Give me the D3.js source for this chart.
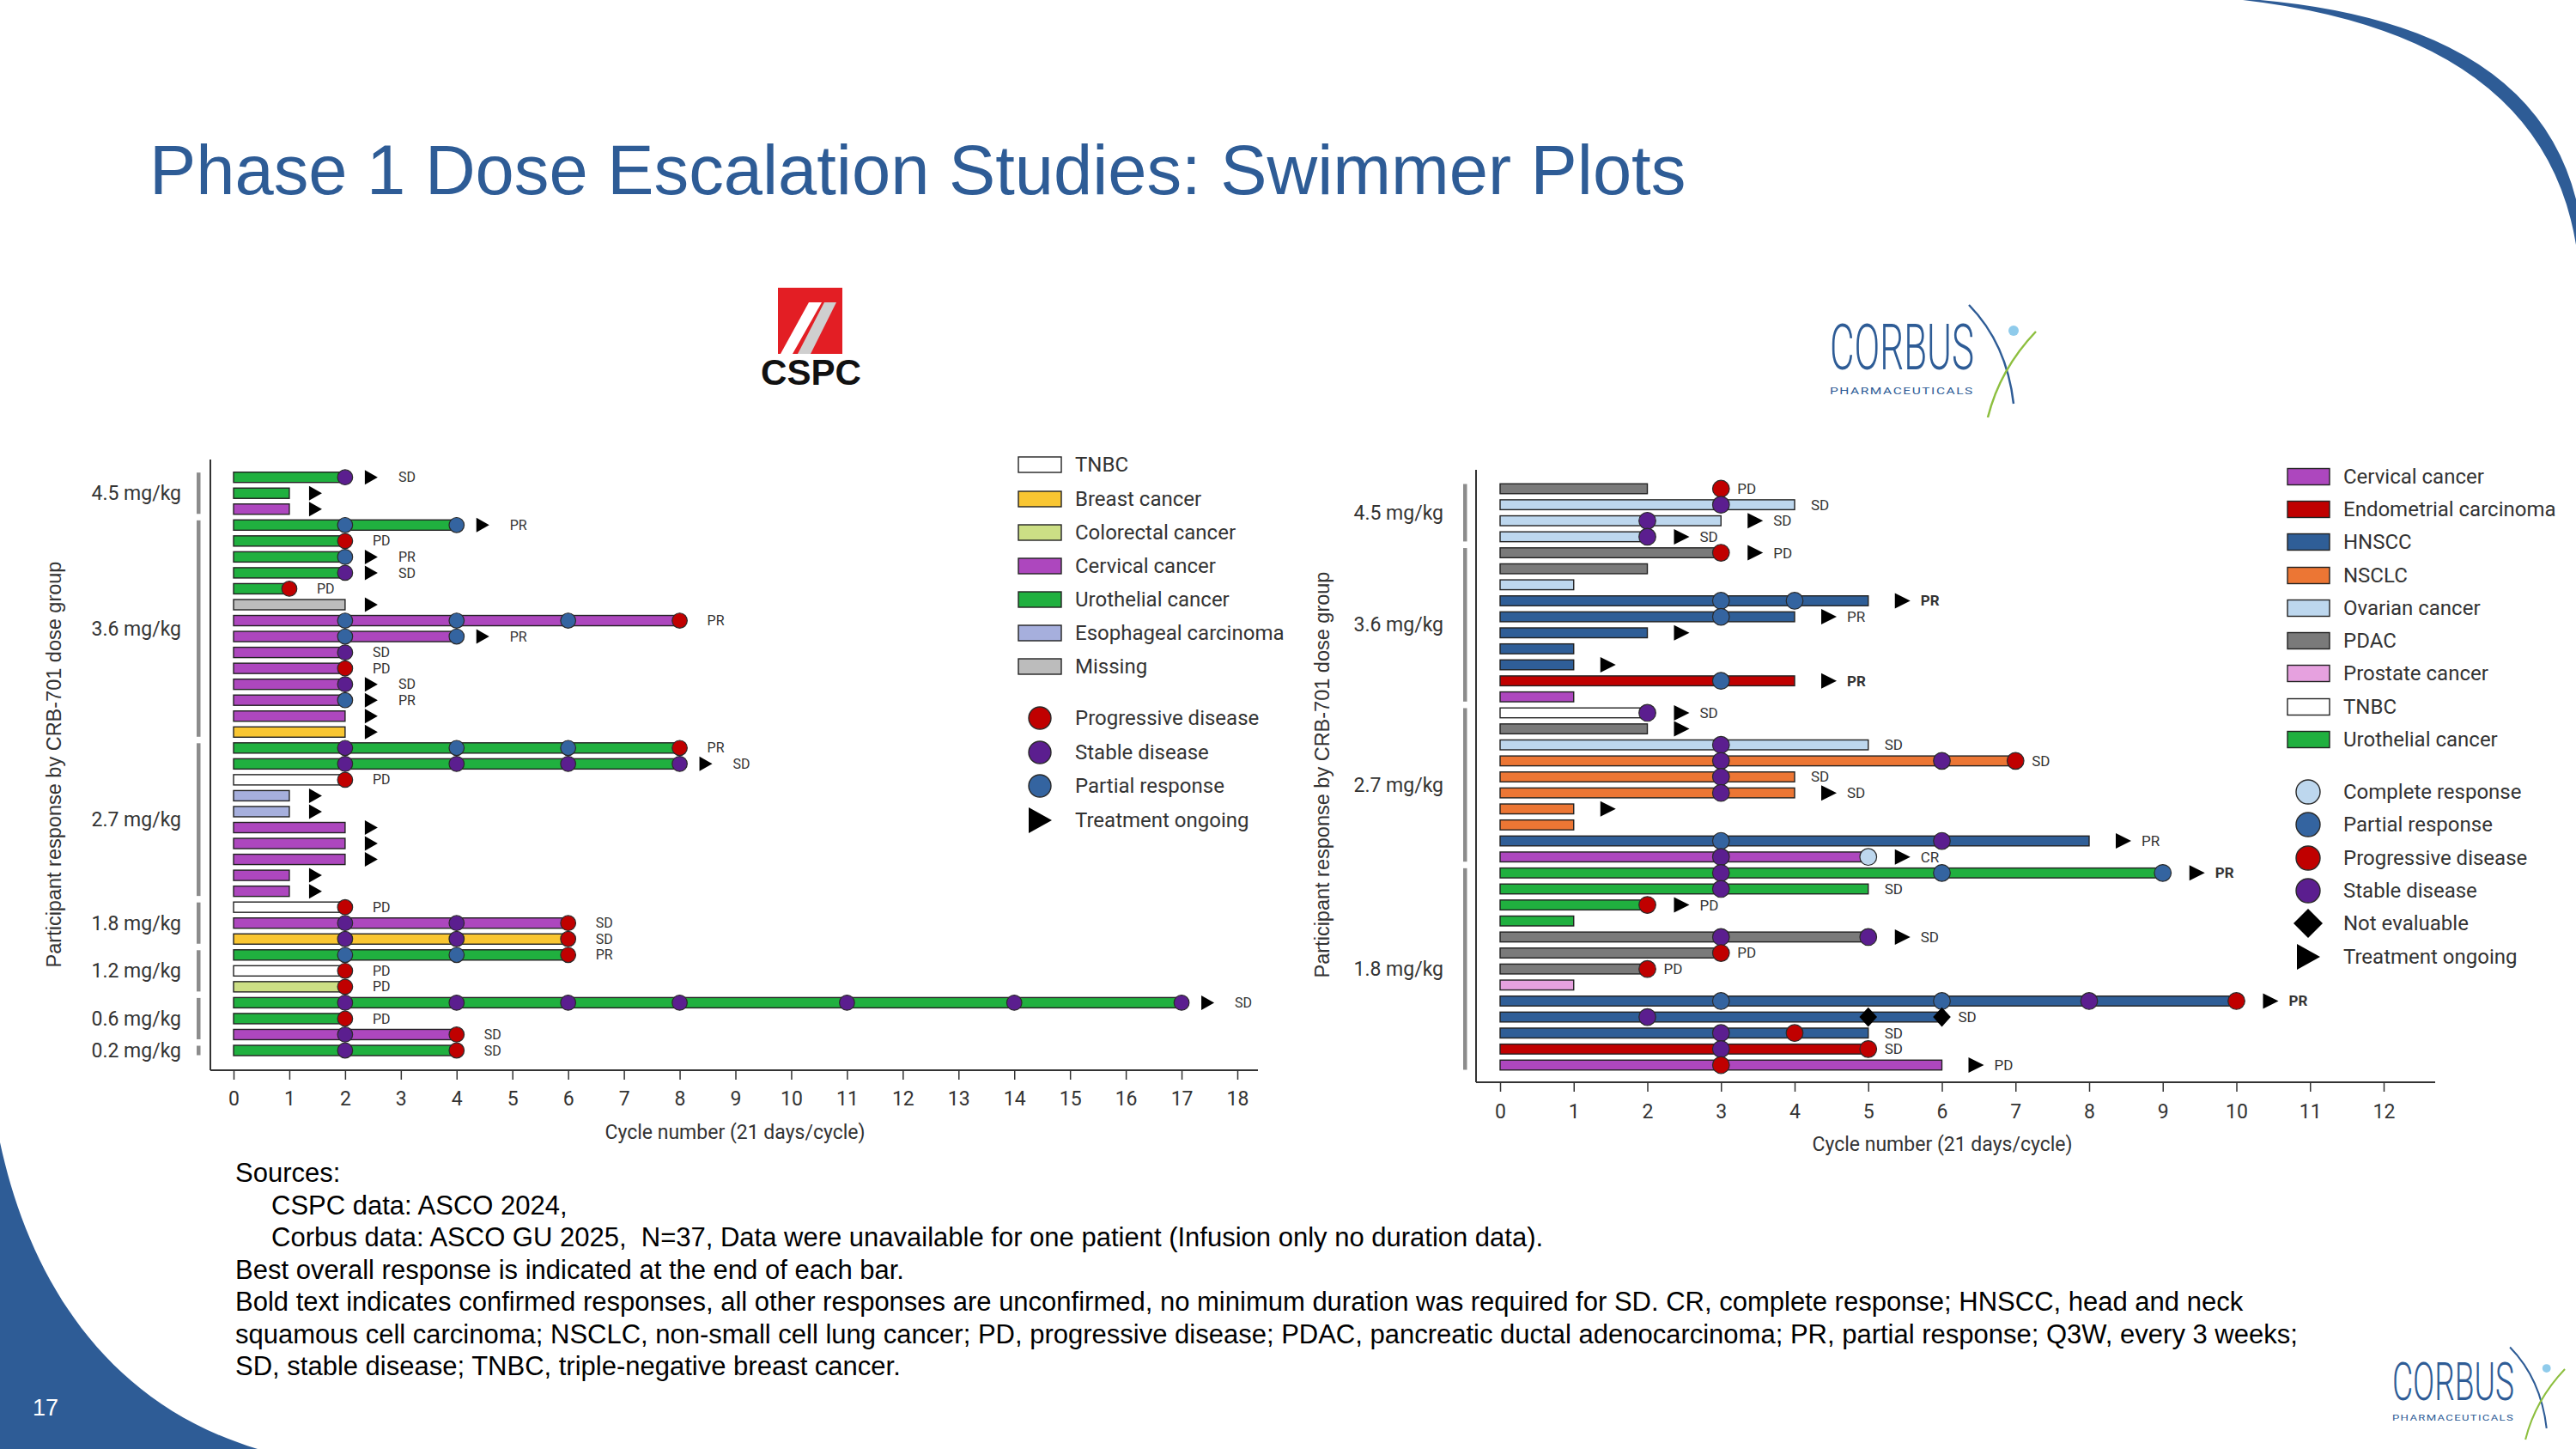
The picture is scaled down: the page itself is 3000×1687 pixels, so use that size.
<!DOCTYPE html>
<html><head><meta charset="utf-8">
<script src="https://cdn.jsdelivr.net/npm/d3@7"></script>
<style>body{margin:0;background:#fff} svg{display:block}</style>
</head><body>
<svg id="c" width="3000" height="1687"></svg>
<script>
// ---------------- DATA ----------------
// Left chart (CSPC)
const leftCategories = ["TNBC","Breast cancer","Colorectal cancer","Cervical cancer","Urothelial cancer","Esophageal carcinoma","Missing"];
const leftResponses = ["Progressive disease","Stable disease","Partial response","Treatment ongoing"];
const leftDoseGroups = ["4.5 mg/kg","3.6 mg/kg","2.7 mg/kg","1.8 mg/kg","1.2 mg/kg","0.6 mg/kg","0.2 mg/kg"];
const leftGroupSizes = [3,14,10,3,3,3,1];
const leftTumor = ["Urothelial cancer","Urothelial cancer","Cervical cancer","Urothelial cancer","Urothelial cancer","Urothelial cancer","Urothelial cancer","Urothelial cancer","Missing","Cervical cancer","Cervical cancer","Cervical cancer","Cervical cancer","Cervical cancer","Cervical cancer","Cervical cancer","Breast cancer","Urothelial cancer","Urothelial cancer","TNBC","Esophageal carcinoma","Esophageal carcinoma","Cervical cancer","Cervical cancer","Cervical cancer","Cervical cancer","Cervical cancer","TNBC","Cervical cancer","Breast cancer","Urothelial cancer","TNBC","Colorectal cancer","Urothelial cancer","Urothelial cancer","Cervical cancer","Urothelial cancer"];
const leftCycles = [2,1,1,4,2,2,2,1,2,8,4,2,2,2,2,2,2,8,8,2,1,1,2,2,2,1,1,2,6,6,6,2,2,17,2,4,4];
const leftAssessments = [["2:SD"],[],[],["2:PR","4:PR"],["2:PD"],["2:PR"],["2:SD"],["1:PD"],[],["2:PR","4:PR","6:PR","8:PD"],["2:PR","4:PR"],["2:SD"],["2:PD"],["2:SD"],["2:PR"],[],[],["2:SD","4:PR","6:PR","8:PD"],["2:SD","4:SD","6:SD","8:SD"],["2:PD"],[],[],[],[],[],[],[],["2:PD"],["2:SD","4:SD","6:PD"],["2:SD","4:SD","6:PD"],["2:PR","4:PR","6:PD"],["2:PD"],["2:PD"],["2:SD","4:SD","6:SD","8:SD","11:SD","14:SD","17:SD"],["2:PD"],["2:SD","4:PD"],["2:SD","4:PD"]];
const leftOngoing = [1,1,1,1,0,1,1,0,1,0,1,0,0,1,1,1,1,0,1,0,1,1,1,1,1,1,1,0,0,0,0,0,0,1,0,0,0];
const leftBest = ["SD","","","PR","PD","PR","SD","PD","","PR","PR","SD","PD","SD","PR","","","PR","SD","PD","","","","","","","","PD","SD","SD","PR","PD","PD","SD","PD","SD","SD"];
const leftTicks = [0,1,2,3,4,5,6,7,8,9,10,11,12,13,14,15,16,17,18];

// Right chart (Corbus)
const rightCategories = ["Cervical cancer","Endometrial carcinoma","HNSCC","NSCLC","Ovarian cancer","PDAC","Prostate cancer","TNBC","Urothelial cancer"];
const rightResponses = ["Complete response","Partial response","Progressive disease","Stable disease","Not evaluable","Treatment ongoing"];
const rightDoseGroups = ["4.5 mg/kg","3.6 mg/kg","2.7 mg/kg","1.8 mg/kg"];
const rightGroupSizes = [4,10,10,13];
const rightTumor = ["PDAC","Ovarian cancer","Ovarian cancer","Ovarian cancer","PDAC","PDAC","Ovarian cancer","HNSCC","HNSCC","HNSCC","HNSCC","HNSCC","Endometrial carcinoma","Cervical cancer","TNBC","PDAC","Ovarian cancer","NSCLC","NSCLC","NSCLC","NSCLC","NSCLC","HNSCC","Cervical cancer","Urothelial cancer","Urothelial cancer","Urothelial cancer","Urothelial cancer","PDAC","PDAC","PDAC","Prostate cancer","HNSCC","HNSCC","HNSCC","Endometrial carcinoma","Cervical cancer"];
const rightCycles = [2,4,3,2,3,2,1,5,4,2,1,1,4,1,2,2,5,7,4,4,1,1,8,5,9,5,2,1,5,3,2,1,10,6,5,5,6];
const rightAssessments = [["3:PD"],["3:SD"],["2:SD"],["2:SD"],["3:PD"],[],[],["3:PR","4:PR"],["3:PR"],[],[],[],["3:PR"],[],["2:SD"],[],["3:SD"],["3:SD","6:SD","7:PD"],["3:SD"],["3:SD"],[],[],["3:PR","6:SD"],["3:SD","5:CR"],["3:SD","6:PR","9:PR"],["3:SD"],["2:PD"],[],["3:SD","5:SD"],["3:PD"],["2:PD"],[],["3:PR","6:PR","8:SD","10:PD"],["2:SD","5:NE","6:NE"],["3:SD","4:PD"],["3:SD","5:PD"],["3:PD"]];
const rightOngoing = [0,0,1,1,1,0,0,1,1,1,0,1,1,0,1,1,0,0,0,1,1,0,1,1,1,0,1,0,1,0,0,0,1,0,0,0,1];
const rightBest = ["PD","SD","SD","SD","PD","","","PR","PR","","","","PR","","SD","","SD","SD","SD","SD","","","PR","CR","PR","SD","PD","","SD","PD","PD","","PR","SD","SD","SD","PD"];
const rightConfirmed = [0,0,0,0,0,0,0,1,0,0,0,0,1,0,0,0,0,0,0,0,0,0,0,0,1,0,0,0,0,0,0,0,1,0,0,0,0];
const rightTicks = [0,1,2,3,4,5,6,7,8,9,10,11,12];

const footnotes = [
  {t:"Sources:", ind:0},
  {t:"CSPC data: ASCO 2024,", ind:1},
  {t:"Corbus data: ASCO GU 2025,  N=37, Data were unavailable for one patient (Infusion only no duration data).", ind:1},
  {t:"Best overall response is indicated at the end of each bar.", ind:0},
  {t:"Bold text indicates confirmed responses, all other responses are unconfirmed, no minimum duration was required for SD. CR, complete response; HNSCC, head and neck", ind:0},
  {t:"squamous cell carcinoma; NSCLC, non-small cell lung cancer; PD, progressive disease; PDAC, pancreatic ductal adenocarcinoma; PR, partial response; Q3W, every 3 weeks;", ind:0},
  {t:"SD, stable disease; TNBC, triple-negative breast cancer.", ind:0}
];

// ---------------- STYLES ----------------
const tumorColor = {
  "TNBC":"#FFFFFF","Breast cancer":"#F9C632","Colorectal cancer":"#CCDF85","Cervical cancer":"#AD47BE",
  "Urothelial cancer":"#20B03F","Esophageal carcinoma":"#A6AFDD","Missing":"#BCBCBC",
  "Endometrial carcinoma":"#C00000","HNSCC":"#2F5E97","NSCLC":"#EC7634","Ovarian cancer":"#BDD7EE",
  "PDAC":"#7A7A7A","Prostate cancer":"#E6A1DF"
};
const respColor = {PD:"#C00000", SD:"#5B1E8F", PR:"#3464A0", CR:"#BDD7EE", NE:"#000000"};
const respCode = {"Progressive disease":"PD","Stable disease":"SD","Partial response":"PR","Complete response":"CR","Not evaluable":"NE"};
const BLUE = "#2E5C96";
const TXT = "#333333";

const svg = d3.select("#c");
svg.append("rect").attr("width",3000).attr("height",1687).attr("fill","#fff");

// decorative shapes
svg.append("path").attr("d","M2612,0 Q2960,40 3000,285 L3000,232 Q2948,28 2632,0 Z").attr("fill",BLUE);
svg.append("path").attr("d","M0,1330 C30,1470 110,1630 300,1687 L0,1687 Z").attr("fill",BLUE);
svg.append("text").attr("x",38).attr("y",1648).text("17")
  .attr("font-family","Liberation Sans, Arial, sans-serif").attr("font-size",27).attr("fill","#fff");

// title
svg.append("text").attr("x",174).attr("y",226).text("Phase 1 Dose Escalation Studies: Swimmer Plots")
  .attr("font-family","Liberation Sans, Arial, sans-serif").attr("font-size",81.3).attr("fill",BLUE);

// CSPC logo
const cl = svg.append("g");
cl.append("rect").attr("x",906).attr("y",335).attr("width",75).attr("height",77).attr("fill","#E31E24");
cl.append("polygon").attr("points","929,412 944,412 974,352 960,352").attr("fill","#CFCFCF");
cl.append("polygon").attr("points","909,412 923,412 957,352 942,352").attr("fill","#fff");
cl.append("text").attr("x",886).attr("y",448).text("CSPC").attr("textLength",117).attr("lengthAdjust","spacingAndGlyphs")
  .attr("font-family","Liberation Sans, Arial, sans-serif").attr("font-weight","bold").attr("font-size",42).attr("fill","#111");

// text squeezed horizontally to a given width (measured, then scaled)
function squeezedText(g, str, x, y, w, fs, weight, spacing) {
  const t = g.append("text").attr("x",0).attr("y",0).text(str)
    .attr("font-family","Roboto, sans-serif").attr("font-weight",weight).attr("font-size",fs)
    .attr("letter-spacing",spacing || 0).attr("fill",BLUE);
  const len = t.node().getComputedTextLength();
  t.attr("transform",`translate(${x},${y}) scale(${w/len},1)`);
  return t;
}
function corbusLogo(x, y, w, s) {
  const g = svg.append("g");
  const bx = x + w;
  g.append("path").attr("d",`M${bx-6*s},${y-75*s} Q${bx+38*s},${y-30*s} ${bx+46*s},${y+40*s}`)
    .attr("fill","none").attr("stroke",BLUE).attr("stroke-width",2.5*s);
  g.append("path").attr("d",`M${bx+72*s},${y-44*s} Q${bx+30*s},${y} ${bx+16*s},${y+56*s}`)
    .attr("fill","none").attr("stroke","#8DBF3F").attr("stroke-width",2.5*s);
  g.append("circle").attr("cx",bx+46*s).attr("cy",y-45*s).attr("r",6*s).attr("fill","#8FCBEB");
  squeezedText(g, "CORBUS", x, y, w, 74*s, 300);
  squeezedText(g, "PHARMACEUTICALS", x, y+29*s, w, 10*s, 400, 1*s);
}
corbusLogo(2131, 430, 168, 1);
corbusLogo(2786, 1630, 142, 0.82);

// ---------------- SWIMMER CHART ----------------
function swimmer(o) {
  const g = svg.append("g");
  const x = o.x, y = o.y;
  const n = o.tumor.length;
  g.append("line").attr("x1",o.axisLeft).attr("x2",o.axisLeft).attr("y1",o.axisTop).attr("y2",o.axisY)
    .attr("stroke",TXT).attr("stroke-width",2);
  g.append("line").attr("x1",o.axisLeft).attr("x2",o.axisRight).attr("y1",o.axisY).attr("y2",o.axisY)
    .attr("stroke",TXT).attr("stroke-width",2);
  const ax = g.append("g").attr("transform",`translate(0,${o.axisY})`)
    .call(d3.axisBottom(x).tickValues(o.ticks).tickSize(11).tickPadding(o.tickPad).tickFormat(d3.format("d")));
  ax.select(".domain").remove();
  ax.selectAll("line").attr("stroke",TXT).attr("stroke-width",1.5);
  ax.selectAll("text").attr("font-family","Roboto, sans-serif").attr("font-size",23).attr("fill",TXT);
  g.append("text").attr("x",o.xTitleX).attr("y",o.xTitleY).attr("text-anchor","middle").text("Cycle number (21 days/cycle)")
    .attr("font-family","Roboto, sans-serif").attr("font-size",23).attr("fill",TXT);
  g.append("text").attr("transform",`translate(${o.yTitleX},${o.yTitleY}) rotate(-90)`).attr("text-anchor","middle")
    .text("Participant response by CRB-701 dose group")
    .attr("font-family","Liberation Sans, Arial, sans-serif").attr("font-size",23.5).attr("fill",TXT);

  let start = 0;
  o.groups.forEach((lab, gi) => {
    const end = start + o.sizes[gi] - 1;
    const y0 = y(start) - 5.5, y1 = y(end) + 5.5;
    g.append("rect").attr("x",o.groupBarX).attr("y",y0).attr("width",4.5).attr("height",y1-y0).attr("fill","#8C8C8C");
    g.append("text").attr("x",o.groupLabelX).attr("y",(y(start)+y(end))/2).attr("dy","0.35em")
      .attr("text-anchor","end").text(lab)
      .attr("font-family","Roboto, sans-serif").attr("font-size",23).attr("fill",TXT);
    start = end + 1;
  });

  const rows = d3.range(n).map(i => ({
    i, tumor:o.tumor[i], cyc:o.cycles[i],
    dots:o.assess[i].map(s => { const p = s.split(":"); return {c:+p[0], r:p[1]}; }),
    on:o.ongoing[i], best:o.best[i], bold:o.bold ? o.bold[i] : 0
  }));
  g.selectAll(".bar").data(rows).join("rect")
    .attr("x",x(0)).attr("y",d => y(d.i)-o.barH/2).attr("width",d => x(d.cyc)-x(0)).attr("height",o.barH)
    .attr("fill",d => tumorColor[d.tumor]).attr("stroke","#222").attr("stroke-width",1.4);
  rows.forEach(d => {
    d.dots.forEach(p => {
      if (p.r === "NE") {
        const cx = x(p.c), cy = y(d.i), hw = o.dotR+0.5, hh = o.dotR+1.5;
        g.append("polygon").attr("points",`${cx-hw},${cy} ${cx},${cy-hh} ${cx+hw},${cy} ${cx},${cy+hh}`).attr("fill","#000");
      } else {
        g.append("circle").attr("cx",x(p.c)).attr("cy",y(d.i)).attr("r",o.dotR)
          .attr("fill",respColor[p.r]).attr("stroke","#2a2a2a").attr("stroke-width",1.2);
      }
    });
    const endC = Math.max(d.cyc, d3.max(d.dots, p => p.c) || 0);
    const ex = x(endC);
    if (d.on) {
      const a = ex + o.arrowOff;
      g.append("polygon").attr("points",`${a},${y(d.i)-o.arrowH/2} ${a+o.arrowW},${y(d.i)} ${a},${y(d.i)+o.arrowH/2}`).attr("fill","#000");
    }
    if (d.best) {
      g.append("text").attr("x", ex + (d.on ? o.textOffA : o.textOffN)).attr("y",y(d.i)).attr("dy","0.35em")
        .text(d.best).attr("font-family","Roboto, sans-serif").attr("font-size",o.fs)
        .attr("font-weight",d.bold ? "bold" : "normal").attr("fill",TXT);
    }
  });
}

function legend(o) {
  const g = svg.append("g");
  o.cats.forEach((c, i) => {
    const cy = o.catY[i];
    g.append("rect").attr("x",o.swX).attr("y",cy-o.swH/2).attr("width",o.swW).attr("height",o.swH)
      .attr("fill",tumorColor[c]).attr("stroke","#222").attr("stroke-width",1.4);
    g.append("text").attr("x",o.textX).attr("y",cy).attr("dy","0.35em").text(c)
      .attr("font-family","Roboto, sans-serif").attr("font-size",24).attr("fill",TXT);
  });
  o.resp.forEach((r, i) => {
    const cy = o.respY[i], cx = o.symX;
    const code = respCode[r];
    if (r === "Treatment ongoing") {
      g.append("polygon").attr("points",`${cx-13},${cy-15} ${cx+14},${cy} ${cx-13},${cy+15}`).attr("fill","#000");
    } else if (code === "NE") {
      g.append("polygon").attr("points",`${cx-17},${cy} ${cx},${cy-17} ${cx+17},${cy} ${cx},${cy+17}`).attr("fill","#000");
    } else {
      g.append("circle").attr("cx",cx).attr("cy",cy).attr("r",o.r).attr("fill",respColor[code])
        .attr("stroke","#2a2a2a").attr("stroke-width",1.4);
    }
    g.append("text").attr("x",o.textX).attr("y",cy).attr("dy","0.35em").text(r)
      .attr("font-family","Roboto, sans-serif").attr("font-size",24).attr("fill",TXT);
  });
}

// Left chart
swimmer({
  x: d3.scaleLinear().domain([0,18]).range([272,1441]),
  y: d3.scaleLinear().domain([0,36]).range([555.7,1223]),
  tumor:leftTumor, cycles:leftCycles, assess:leftAssessments, ongoing:leftOngoing, best:leftBest,
  groups:leftDoseGroups, sizes:leftGroupSizes, ticks:leftTicks,
  axisLeft:245, axisRight:1465, axisTop:535, axisY:1246, tickPad:14,
  xTitleX:856, xTitleY:1326, yTitleX:71, yTitleY:890,
  groupBarX:229, groupLabelX:211,
  barH:12, dotR:8.8, arrowOff:23, arrowW:15, arrowH:17, textOffA:62, textOffN:32, fs:16
});
legend({
  cats:leftCategories, catY:[541,581,620,659,698,737,776],
  resp:leftResponses, respY:[836,876,915,955],
  swX:1186, swW:50, swH:18, textX:1252, symX:1211, r:13
});

// Right chart
swimmer({
  x: d3.scaleLinear().domain([0,12]).range([1747,2776]),
  y: d3.scaleLinear().domain([0,36]).range([569,1240]),
  tumor:rightTumor, cycles:rightCycles, assess:rightAssessments, ongoing:rightOngoing, best:rightBest, bold:rightConfirmed,
  groups:rightDoseGroups, sizes:rightGroupSizes, ticks:rightTicks,
  axisLeft:1719, axisRight:2836, axisTop:547, axisY:1260, tickPad:15,
  xTitleX:2262, xTitleY:1340, yTitleX:1548, yTitleY:902,
  groupBarX:1704, groupLabelX:1681,
  barH:11.5, dotR:9.8, arrowOff:31, arrowW:18, arrowH:18, textOffA:61, textOffN:19, fs:17
});
legend({
  cats:rightCategories, catY:[555,593,631,670,708,746,784,823,861],
  resp:rightResponses, respY:[922,960,999,1037,1075,1114],
  swX:2664, swW:49, swH:19, textX:2729, symX:2688, r:14
});

// footnotes
const fn = svg.append("g").attr("font-family","Liberation Sans, Arial, sans-serif").attr("font-size",31).attr("fill","#000");
footnotes.forEach((f, i) => {
  fn.append("text").attr("x", f.ind ? 316 : 274).attr("y", 1376 + i*37.5).text(f.t).style("white-space","pre");
});
</script>
</body></html>
